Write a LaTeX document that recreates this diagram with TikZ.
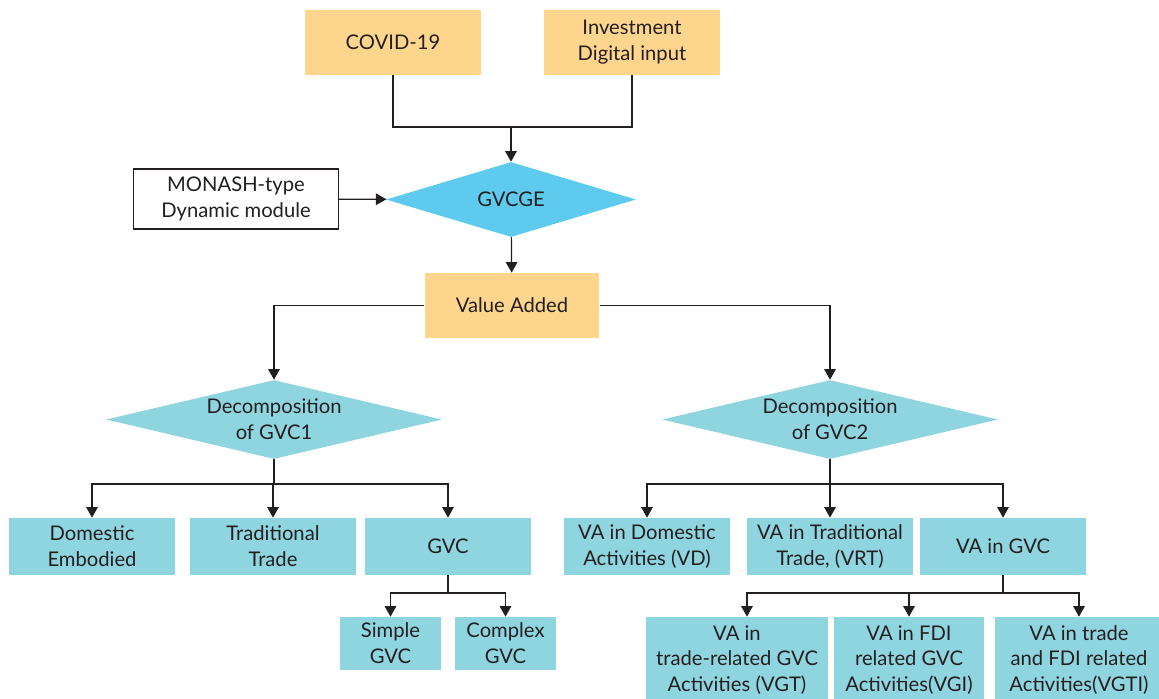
\documentclass[tikz,border=0pt]{standalone}
\usepackage{fontspec}
\setmainfont{Lato}
\usepackage{tikz}
\usetikzlibrary{shapes.geometric, arrows.meta, positioning}
\definecolor{boxorange}{HTML}{FDD58D}
\definecolor{boxteal}{HTML}{8FD5E0}
\definecolor{gvccyan}{HTML}{5ECBEE}
\definecolor{inkgray}{HTML}{231F20}
\tikzset{
    inputbox/.style={
        rectangle,
        minimum width=3.52cm,
        minimum height=1.3cm,
        inner sep=0pt,
        align=center, % two-line labels
        fill=boxorange
    },
    modelbox/.style={
        rectangle,
        minimum width=4.1cm,
        minimum height=1.2cm,
        inner sep=0pt,
        align=center,
        draw=inkgray,
        line width=0.7pt,
        fill=white
    },
    model/.style={
        diamond,
        minimum width=5cm,
        minimum height=1.5cm,
        inner sep=0pt,
        shape aspect=3.3,
        align=center,
        fill=gvccyan
    },
    decomp/.style={
        diamond,
        minimum width=6.72cm,
        minimum height=1.58cm,
        inner sep=0pt,
        shape aspect=4.25,
        align=center,
        fill=boxteal
    },
    process/.style={
        rectangle,
        minimum width=3.34cm,
        minimum height=1.14cm,
        inner sep=0pt,
        align=center,
        fill=boxteal
    },
    link/.style={
        line width=0.7pt,
        draw=inkgray
    },
    arrow/.style={
        link,
        -{Triangle[length=2.1mm, width=2.3mm]}
    }
}

\begin{document}
\begin{tikzpicture}[
    x=0.02cm, y=-0.02cm,
    every node/.style={font=\fontsize{11.5}{14.7}\selectfont, text=inkgray},
    subbox/.style={process, minimum width=2.02cm, minimum height=1.06cm},
    leafbox/.style={process, minimum height=1.72cm}
]
\useasboundingbox (0,0) rectangle (1159,698);
% inputs and model
\node[inputbox] (covid) at (393,42.5) {COVID-19};
\node[inputbox] (invest) at (632,42.5) {Investment\\Digital input};
\node[model] (gvcge) at (511,199.5) {GVCGE};
\node[modelbox] (monash) at (236,199) {MONASH-type\\Dynamic module};
\node[inputbox, minimum width=3.5cm] (va) at (512,305.5) {Value Added};
\node[decomp] (dec1) at (274,419.5) {Decomposition\\of GVC1};
\node[decomp] (dec2) at (830,419.5) {Decomposition\\of GVC2};
% first decomposition
\node[process] (dom) at (92,546.5) {Domestic\\Embodied};
\node[process] (trad) at (273,546.5) {Traditional\\Trade};
\node[process] (gvc) at (448,546.5) {GVC};
\node[subbox] (simple) at (390.5,643.5) {Simple\\GVC};
\node[subbox] (complex) at (505.5,643.5) {Complex\\GVC};
% second decomposition
\node[process] (vd) at (647,546.5) {VA in Domestic\\Activities (VD)};
\node[process] (vrt) at (830,546.5) {VA in Traditional\\Trade, (VRT)};
\node[process] (vagvc) at (1003,546.5) {VA in GVC};
\node[leafbox, minimum width=3.64cm] (vgt) at (737,660) {VA in\\trade-related GVC\\Activities (VGT)};
\node[leafbox, minimum width=3cm] (vgi) at (909,660) {VA in FDI\\related GVC\\Activities(VGI)};
\node[leafbox, minimum width=3.36cm] (vgti) at (1079,660) {VA in trade\\and FDI related\\Activities(VGTI)};

\coordinate (topjoin) at (511,127);
\coordinate (join1) at (274,484);
\coordinate (join2) at (830,484);
\coordinate (join3) at (448,593);
\coordinate (join4) at (1003,593);

\draw[link] (covid.south) |- (topjoin) -| (invest.south);
\draw[arrow] (topjoin) -- (gvcge.north);
\draw[arrow] (monash) -- (gvcge);
\draw[arrow] (gvcge) -- (va);
\draw[arrow] (va) -| (dec1);
\draw[arrow] (va) -| (dec2);

\draw[link] (dec1) -- (join1);
\foreach \n in {dom,trad,gvc}
    \draw[arrow] (join1) -| (\n);
\draw[link] (gvc) -- (join3);
\foreach \n in {simple,complex}
    \draw[arrow] (join3) -| (\n);

\draw[link] (dec2) -- (join2);
\foreach \n in {vd,vrt,vagvc}
    \draw[arrow] (join2) -| (\n);
\draw[link] (vagvc) -- (join4);
\draw[arrow] (join4) -| ([xshift=0.2cm]vgt.north);
\draw[arrow] (join4) -| (vgi);
\draw[arrow] (join4) -| (vgti);
\end{tikzpicture}
\end{document}
